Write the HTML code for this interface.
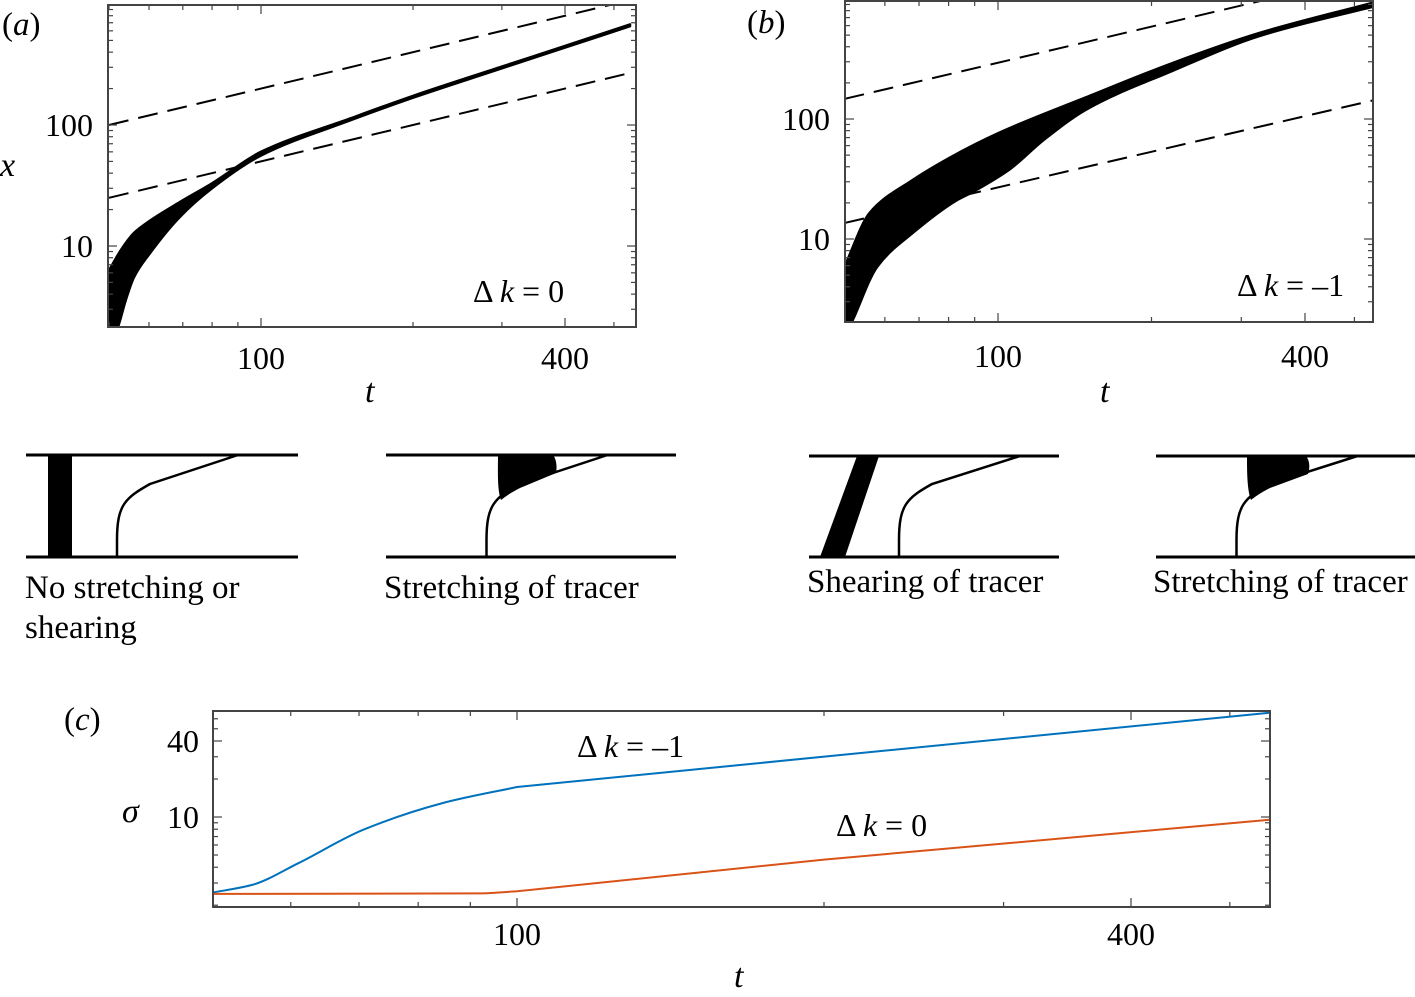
<!DOCTYPE html>
<html><head><meta charset="utf-8"><style>
body{margin:0;background:#fff;}
svg{display:block;font-family:"Liberation Serif",serif;}
</style></head><body>
<svg id="fig" width="1415" height="997" viewBox="0 0 1415 997" xmlns="http://www.w3.org/2000/svg">
<g id="schem" stroke="#000" fill="none">
 <g>
  <line x1="26" y1="455" x2="298" y2="455" stroke-width="3"/><line x1="26" y1="557" x2="298" y2="557" stroke-width="3"/>
  <rect x="48" y="455" width="24" height="102" fill="#000" stroke="none"/>
  <path d="M117,557 L117,540 C117,505 125,498 150,484 L238,455" stroke-width="2.5"/>
 </g>
 <g>
  <line x1="386" y1="455" x2="676" y2="455" stroke-width="3"/><line x1="386" y1="557" x2="676" y2="557" stroke-width="3"/>
  <path d="M498,455 L553,455 C557,460 557,468 556,473 L520,488 C512,492 506,496 501,500 C497,490 498,470 498,455Z" fill="#000" stroke="none"/>
  <path d="M486.5,557 L486.5,540 C486.5,505 494.5,498 519.5,484 L607.5,455" stroke-width="2.5"/>
 </g>
 <g>
  <line x1="809" y1="456" x2="1059" y2="456" stroke-width="3"/><line x1="809" y1="557" x2="1059" y2="557" stroke-width="3"/>
  <polygon points="820,557 845,557 879,456 857,456" fill="#000" stroke="none"/>
  <path d="M899,557 L899,540 C899,505 907,498 932,484 L1020,456" stroke-width="2.5"/>
 </g>
 <g>
  <line x1="1156" y1="456" x2="1415" y2="456" stroke-width="3"/><line x1="1156" y1="557" x2="1415" y2="557" stroke-width="3"/>
  <path d="M1247,456 L1306,456 C1310,461 1310,468 1308,474 L1270,488 C1262,492 1256,496 1251,500 C1247,490 1247,470 1247,456Z" fill="#000" stroke="none"/>
  <path d="M1236.5,557 L1236.5,540 C1236.5,505 1244.5,498 1269.5,484 L1357.5,456" stroke-width="2.5"/>
 </g>
</g>
<g font-size="33" fill="#000">
 <text x="25" y="598">No stretching or</text>
 <text x="25" y="638">shearing</text>
 <text x="384" y="598">Stretching of tracer</text>
 <text x="807" y="592">Shearing of tracer</text>
 <text x="1153" y="592">Stretching of tracer</text>
</g>
</svg>
<script>
// Panel (a) data
const aUpperT=[50,53,56,60,69,80,100,150,200,300,400,538];
const aUpperX=[6.3,9.5,12.8,16,23,33,60,113,174,304,450,678];
const aLowerT=[50,52,54,56,60,69,80,100,150,200,300,400,538];
const aLowerX=[1.5,2.1,3.6,5.5,8.5,17.3,30,56,109,168,294,436,656];
const aDashUpperX=[100,1076]; // at t = 50, 538
const aDashLowerX=[25,269];
const aDashT=[50,538];
// Panel (b) data
const bUpperT=[50,56,68,80,100,149,220,325,548];
const bUpperX=[5.9,16.5,31,47,76,152,293,520,940];
const bLowerT=[50,52,58,68,83,89,105,123,149,220,325,548];
const bLowerX=[1.5,2.15,5.9,11.2,21,24.5,37.6,67,120,252,490,870];
const bDashT=[50,548];
const bDashUpperX=[147,1611];
const bDashLowerX=[13.6,144];
// Panel (c) data
const cBlueT=[50,55,61,70.6,84.6,100,547];
const cBlueS=[2.5,2.9,4.3,7.9,12.9,17.3,67];
const cOrangeT=[50,92,100,200,547];
const cOrangeS=[2.46,2.48,2.58,4.6,9.5];
const tTicks=[100,400];
const xTicks=[10,100];
const sTicks=[10,40];

const NS="http://www.w3.org/2000/svg";
const svg=document.getElementById('fig');
function mk(tag,attrs,parent){const e=document.createElementNS(NS,tag);for(const k in attrs)e.setAttribute(k,attrs[k]);(parent||svg).appendChild(e);return e;}
function logScale(v0,p0,v1,p1){const a=Math.log10(v0),b=Math.log10(v1);return v=>p0+(Math.log10(v)-a)/(b-a)*(p1-p0);}
function minorList(lo,hi){const r=[];for(let d=Math.floor(Math.log10(lo));d<=Math.ceil(Math.log10(hi));d++){for(let m=1;m<10;m++){const v=m*Math.pow(10,d);if(v>=lo&&v<=hi)r.push(v);}}return r;}
const f=v=>v.toFixed(1);
// monotone cubic (Fritsch-Carlson) through points with monotone x
function smooth(pts,first){
  const n=pts.length;
  let d=(first?'M':' L')+f(pts[0][0])+','+f(pts[0][1]);
  if(n<3){for(let i=1;i<n;i++)d+=' L'+f(pts[i][0])+','+f(pts[i][1]);return d;}
  const dx=[],s=[];
  for(let i=0;i<n-1;i++){dx.push(pts[i+1][0]-pts[i][0]);s.push((pts[i+1][1]-pts[i][1])/dx[i]);}
  const m=[s[0]];
  for(let i=1;i<n-1;i++){
    if(s[i-1]*s[i]<=0)m.push(0);
    else{const w1=2*dx[i]+dx[i-1],w2=dx[i]+2*dx[i-1];m.push((w1+w2)/(w1/s[i-1]+w2/s[i]));}
  }
  m.push(s[n-2]);
  for(let i=0;i<n-1;i++){
    const h=dx[i]/3;
    d+=' C'+f(pts[i][0]+h)+','+f(pts[i][1]+m[i]*h)+' '+f(pts[i+1][0]-h)+','+f(pts[i+1][1]-m[i+1]*h)+' '+f(pts[i+1][0])+','+f(pts[i+1][1]);
  }
  return d;
}
// smooth for t<=split, straight segments afterwards
function hybrid(T,pts,split,first){
  const k=T.findIndex(t=>t>split);
  if(k<0)return smooth(pts,first);
  let d=smooth(pts.slice(0,k),first);
  for(let i=k;i<pts.length;i++)d+=' L'+f(pts[i][0])+','+f(pts[i][1]);
  return d;
}
function pathRev(pts,first){let d='';pts.forEach((p,i)=>{d+=(i===0&&first?'M':' L')+f(p[0])+','+f(p[1]);});return d;}

function panel(id,box,sx,sy,tlo,thi,ylo,yhi,majT,majY){
  const g=mk('g',{});
  
  
  const cp=mk('clipPath',{id:id+'-clip'},g);mk('rect',{x:box.x0,y:box.y0,width:box.x1-box.x0,height:box.y1-box.y0},cp);
  const plot=mk('g',{'clip-path':'url(#'+id+'-clip)'},g);
  const ax=mk('g',{stroke:'#444','stroke-width':1.2},g);
  
  
  minorList(tlo,thi).forEach(v=>{const x=sx(v);if(x<box.x0+1||x>box.x1-1)return;const L=majT.includes(v)?9:5;
    mk('line',{x1:x,y1:box.y1,x2:x,y2:box.y1-L},ax);mk('line',{x1:x,y1:box.y0,x2:x,y2:box.y0+L},ax);});
  minorList(ylo,yhi).forEach(v=>{const y=sy(v);if(y<box.y0+1||y>box.y1-1)return;const L=majY.includes(v)?9:5;
    mk('line',{x1:box.x0,y1:y,x2:box.x0+L,y2:y},ax);mk('line',{x1:box.x1,y1:y,x2:box.x1-L,y2:y},ax);});
  const fr=mk('rect',{x:box.x0,y:box.y0,width:box.x1-box.x0,height:box.y1-box.y0,fill:'none',stroke:'#444','stroke-width':2},g);
  
  
  return plot;
}
function band(plot,sx,sy,uT,uX,lT,lX,name){
  const up=uT.map((t,i)=>[sx(t),sy(uX[i])]);
  const lo=lT.map((t,i)=>[sx(t),sy(lX[i])]);
  const d=smooth(up,true)+smooth(lo.slice().reverse(),false);
  const p=mk('path',{d:d+'Z',fill:'#000',stroke:'#000','stroke-width':2.5,'stroke-linejoin':'round'},plot);
  
  
}
function line(plot,sx,sy,T,V,attrs,name,split){
  const pts=T.map((t,i)=>[sx(t),sy(V[i])]);
  const d=split?hybrid(T,pts,split,true):pathRev(pts,true);
  const p=mk('path',Object.assign({d:d,fill:'none'},attrs),plot);
  
  
}
function txt(x,y,s,attrs,name){const e=mk('text',Object.assign({x:x,y:y,'font-size':30},attrs||{}));e.textContent=s;
  
  return e;}

// Panel (a)
{const box={x0:108,y0:5,x1:636,y1:327};
 const sx=logScale(100,261,400,565), sy=logScale(10,246,100,125);
 const p=panel('panel-a',box,sx,sy,50,538,2.1,1100,[100,400],[10,100]);
 line(p,sx,sy,aDashT,aDashUpperX,{stroke:'#000','stroke-width':2,'stroke-dasharray':'20,10'},'a-dashed-upper');
 line(p,sx,sy,aDashT,aDashLowerX,{stroke:'#000','stroke-width':2,'stroke-dasharray':'20,10'},'a-dashed-lower');
 band(p,sx,sy,aUpperT,aUpperX,aLowerT,aLowerX,'a-tracer-band');
 tTicks.forEach(v=>txt(sx(v),369,String(v),{'text-anchor':'middle','font-size':32},'a-xtick-'+v));
 xTicks.forEach(v=>txt(93,sy(v)+11,String(v),{'text-anchor':'end','font-size':32},'a-ytick-'+v));
 txt(365,402,'t',{'font-style':'italic','font-size':34},'a-x-axis-title');
 txt(0,176,'x',{'font-style':'italic','font-size':34},'a-y-axis-title');
 txt(2,35,'',{'font-size':33},'a-panel-label').innerHTML='(<tspan font-style="italic">a</tspan>)';
 txt(473,302,'',{'font-size':32},'a-annotation').innerHTML='Δ <tspan font-style="italic">k</tspan> = 0';
}
// Panel (b)
{const box={x0:845,y0:1,x1:1373,y1:322};
 const sx=logScale(100,998,400,1305), sy=logScale(10,239,100,119);
 const p=panel('panel-b',box,sx,sy,50,548,2.1,1100,[100,400],[10,100]);
 line(p,sx,sy,bDashT,bDashUpperX,{stroke:'#000','stroke-width':2,'stroke-dasharray':'20,10'},'b-dashed-upper');
 line(p,sx,sy,bDashT,bDashLowerX,{stroke:'#000','stroke-width':2,'stroke-dasharray':'20,10'},'b-dashed-lower');
 band(p,sx,sy,bUpperT,bUpperX,bLowerT,bLowerX,'b-tracer-band');
 tTicks.forEach(v=>txt(sx(v),367,String(v),{'text-anchor':'middle','font-size':32},'b-xtick-'+v));
 xTicks.forEach(v=>txt(830,sy(v)+11,String(v),{'text-anchor':'end','font-size':32},'b-ytick-'+v));
 txt(1100,402,'t',{'font-style':'italic','font-size':34},'b-x-axis-title');
 txt(747,33,'',{'font-size':33},'b-panel-label').innerHTML='(<tspan font-style="italic">b</tspan>)';
 txt(1237,296,'',{'font-size':32},'b-annotation').innerHTML='Δ <tspan font-style="italic">k</tspan> = –1';
}
// Panel (c)
{const box={x0:213,y0:711,x1:1270,y1:907};
 const sx=logScale(100,517,400,1131), sy=logScale(10,817,40,741);
 const p=panel('panel-c',box,sx,sy,50,547,1.9,70,[100,400],[10,40]);
 line(p,sx,sy,cBlueT,cBlueS,{stroke:'#0072BD','stroke-width':2},'c-line-dk-minus1',100);
 line(p,sx,sy,cOrangeT,cOrangeS,{stroke:'#D95319','stroke-width':2},'c-line-dk-0',100);
 tTicks.forEach(v=>txt(sx(v),945,String(v),{'text-anchor':'middle','font-size':32},'c-xtick-'+v));
 sTicks.forEach(v=>txt(199,sy(v)+11,String(v),{'text-anchor':'end','font-size':32},'c-ytick-'+v));
 txt(734,987,'t',{'font-style':'italic','font-size':34},'c-x-axis-title');
 txt(122,822,'σ',{'font-style':'italic','font-size':34},'c-y-axis-title');
 txt(64,730,'',{'font-size':33},'c-panel-label').innerHTML='(<tspan font-style="italic">c</tspan>)';
 txt(577,757,'',{'font-size':32},'c-annotation-dk-minus1').innerHTML='Δ <tspan font-style="italic">k</tspan> = –1';
 txt(836,836,'',{'font-size':32},'c-annotation-dk-0').innerHTML='Δ <tspan font-style="italic">k</tspan> = 0';
}
</script>
</body></html>
